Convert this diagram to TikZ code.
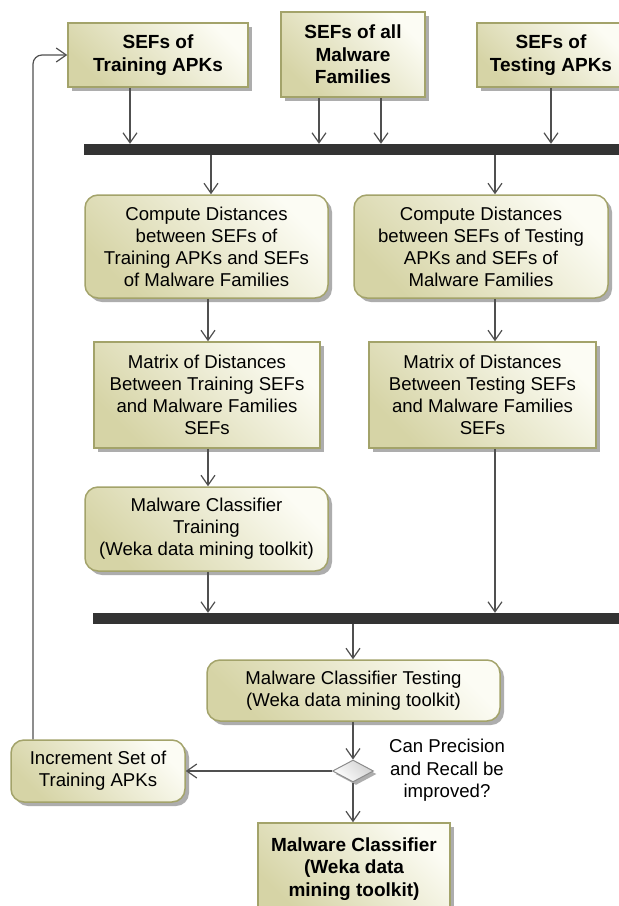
\documentclass[tikz,border=0pt]{standalone}
\usepackage{fontspec}
\setmainfont{Liberation Sans}
\usetikzlibrary{arrows.meta,shapes.geometric,shadows}

\definecolor{boxdark}{HTML}{D6D4A6}
\definecolor{boxlight}{HTML}{FCFCF4}
\definecolor{boxedge}{HTML}{A3A36A}
\definecolor{linegray}{HTML}{505050}
\definecolor{barfill}{HTML}{333333}

\tikzset{
  every node/.style={inner sep=0pt, align=center},
  basebox/.style={draw=boxedge, line width=1.5pt,
    top color=boxdark, bottom color=boxlight, shading angle=135,
    drop shadow={shadow xshift=4pt, shadow yshift=-4pt, fill=black!40, opacity=0.8},
    font=\fontsize{18.6}{22}\selectfont},
  objbox/.style={basebox, rectangle},
  boldbox/.style={objbox, font=\fontsize{19}{22.5}\selectfont\bfseries},
  actbox/.style={basebox, rectangle, rounded corners=13pt},
  syncbar/.style={fill=barfill, draw=none, rectangle, minimum height=11pt},
  decision/.style={diamond, draw=black!45, line width=1pt,
    top color=white, bottom color=black!18, shading angle=135,
    drop shadow={shadow xshift=3pt, shadow yshift=-3pt, fill=black!40, opacity=0.8},
    minimum width=41pt, minimum height=22pt, aspect=1.86},
  arr/.style={draw=linegray, line width=1.2pt,
    -{Straight Barb[length=10pt, width=14pt, line width=1.2pt]}},
}

\begin{document}
\begin{tikzpicture}[x=1pt, y=-1pt]
\useasboundingbox (0,0) rectangle (619,906);
\fill[white] (0,0) rectangle (619,906);

% input objects
\node[boldbox, minimum width=180pt, minimum height=64pt] (trainSEF) at (158,55) {SEFs of\\Training APKs};
\node[boldbox, minimum width=144pt, minimum height=85pt] (allSEF) at (353,54.5) {SEFs of all\\Malware\\Families};
\node[boldbox, minimum width=148pt, minimum height=64pt] (testSEF) at (551,55) {SEFs of\\Testing APKs};

% fork / join bars
\node[syncbar, minimum width=541pt] (bar1) at (354.5,149.5) {};
\node[syncbar, minimum width=532pt] (bar2) at (359,618.5) {};

% distance computation
\node[actbox, minimum width=243pt, minimum height=103pt] (compL) at (206.5,246.5)
  {Compute Distances\\between SEFs of\\Training APKs and SEFs\\of Malware Families};
\node[actbox, minimum width=254pt, minimum height=103pt] (compR) at (481,246.5)
  {Compute Distances\\between SEFs of Testing\\APKs and SEFs of\\Malware Families};

% distance matrices
\node[objbox, minimum width=226pt, minimum height=106pt] (matL) at (207,395)
  {Matrix of Distances\\Between Training SEFs\\and Malware Families\\SEFs};
\node[objbox, minimum width=227pt, minimum height=106pt] (matR) at (482.5,395)
  {Matrix of Distances\\Between Testing SEFs\\and Malware Families\\SEFs};

% training and testing
\node[actbox, minimum width=243pt, minimum height=84pt] (train) at (206.5,529)
  {Malware Classifier\\Training\\(Weka data mining toolkit)};
\node[actbox, minimum width=293pt, minimum height=61pt] (test) at (353.5,690.5)
  {Malware Classifier Testing\\(Weka data mining toolkit)};

% decision and its outcomes
\node[decision] (dec) at (353,771) {};
\node[font=\fontsize{18.6}{22.5}\selectfont] (declabel) at (447,770.5)
  {Can Precision\\and Recall be\\improved?};
\node[actbox, minimum width=174pt, minimum height=62pt] (inc) at (98,771)
  {Increment Set of\\Training APKs};
\node[boldbox, minimum width=192pt, minimum height=92pt] (final) at (354,869)
  {Malware Classifier\\(Weka data\\mining toolkit)};

% x positions of the connectors
\coordinate (xa) at (130,0);
\coordinate (xb) at (319,0);
\coordinate (xc) at (381,0);
\coordinate (xd) at (551,0);
\coordinate (xe) at (211,0);
\coordinate (xf) at (495,0);
\coordinate (xg) at (208,0);
\coordinate (xh) at (353,0);
\coordinate (xfb) at (33,0);

% into the first bar
\draw[arr] (trainSEF.south -| xa) -- (bar1.north -| xa);
\draw[arr] (allSEF.south -| xb) -- (bar1.north -| xb);
\draw[arr] (allSEF.south -| xc) -- (bar1.north -| xc);
\draw[arr] (testSEF.south -| xd) -- (bar1.north -| xd);

% out of the first bar
\draw[arr] (bar1.south -| xe) -- (compL.north -| xe);
\draw[arr] (bar1.south -| xf) -- (compR.north -| xf);

% left branch
\draw[arr] (compL.south -| xg) -- (matL.north -| xg);
\draw[arr] (matL.south -| xg) -- (train.north -| xg);
\draw[arr] (train.south -| xg) -- (bar2.north -| xg);

% right branch
\draw[arr] (compR.south -| xf) -- (matR.north -| xf);
\draw[arr] (matR.south -| xf) -- (bar2.north -| xf);

% testing and decision
\draw[arr] (bar2.south -| xh) -- (test.north -| xh);
\draw[arr] (test.south -| xh) -- (dec.north);
\draw[arr] (dec.west) -- (inc.east);
\draw[arr] (dec.south) -- (final.north -| dec.south);

% feedback loop
\draw[arr, rounded corners=9pt] (inc.north -| xfb) |- (trainSEF.west);
\end{tikzpicture}
\end{document}
